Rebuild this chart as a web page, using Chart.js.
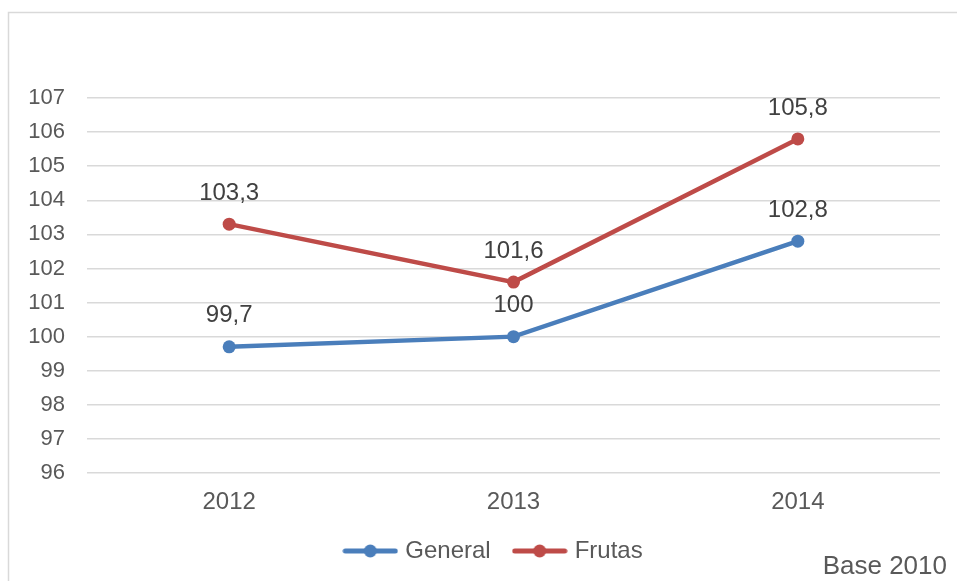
<!DOCTYPE html>
<html>
<head>
<meta charset="utf-8">
<script src="https://cdn.jsdelivr.net/npm/chart.js@4/dist/chart.umd.min.js"></script>
<style>
  html, body { margin: 0; padding: 0; background: #fff; }
  #wrap { width: 957px; height: 581px; }
</style>
</head>
<body>
<div id="wrap"><canvas id="myChart"></canvas></div>
<script>
const years = ['2012', '2013', '2014'];
const general = [99.7, 100, 102.8];
const frutas = [103.3, 101.6, 105.8];
const yTicks = [96, 97, 98, 99, 100, 101, 102, 103, 104, 105, 106, 107];
const baseNote = 'Base 2010';

const blue = '#4a7ebb';
const red = '#be4b48';
const font = '"Liberation Sans", Arial, sans-serif';

// little line+dot swatch for the legend
function swatch(color) {
    const c = document.createElement('canvas');
    c.width = 56;
    c.height = 14;
    const g = c.getContext('2d');
    g.strokeStyle = color;
    g.lineWidth = 5;
    g.lineCap = 'round';
    g.beginPath();
    g.moveTo(3, 7);
    g.lineTo(53, 7);
    g.stroke();
    g.fillStyle = color;
    g.beginPath();
    g.arc(28, 7, 6.5, 0, Math.PI * 2);
    g.fill();
    return c;
}

const valueLabels = {
    id: 'valueLabels',
    afterDatasetsDraw(chart) {
        const ctx = chart.ctx;
        ctx.save();
        ctx.font = '24px ' + font;
        ctx.fillStyle = '#404040';
        ctx.textAlign = 'center';
        ctx.textBaseline = 'middle';
        chart.data.datasets.forEach(function (ds, i) {
            chart.getDatasetMeta(i).data.forEach(function (pt, j) {
                const txt = String(ds.data[j]).replace('.', ',');
                ctx.fillText(txt, pt.x, pt.y - 31);
            });
        });
        ctx.restore();
    }
};

const frame = {
    id: 'frame',
    afterLayout(chart) {
        // nudge the legend a bit right, like the original
        chart.legend.left += 20;
        chart.legend.right += 20;
    },
    beforeDraw(chart) {
        const ctx = chart.ctx;
        ctx.save();
        ctx.strokeStyle = '#d9d9d9';
        ctx.lineWidth = 1.5;
        ctx.strokeRect(8.5, 12.5, chart.width + 20, chart.height + 20);
        ctx.restore();
    },
    afterDraw(chart) {
        const ctx = chart.ctx;
        ctx.save();
        ctx.font = '26px ' + font;
        ctx.fillStyle = '#595959';
        ctx.textAlign = 'right';
        ctx.textBaseline = 'middle';
        ctx.fillText(baseNote, 947, 567);
        ctx.restore();
    }
};

new Chart(document.getElementById('myChart').getContext('2d'), {
    type: 'line',
    data: {
        labels: years,
        datasets: [
            {
                label: 'General',
                data: general,
                borderColor: blue,
                backgroundColor: blue,
                borderWidth: 4.5,
                pointRadius: 6.5,
                pointBackgroundColor: blue,
                pointBorderWidth: 0,
                tension: 0,
            },
            {
                label: 'Frutas',
                data: frutas,
                borderColor: red,
                backgroundColor: red,
                borderWidth: 4.5,
                pointRadius: 6.5,
                pointBackgroundColor: red,
                pointBorderWidth: 0,
                tension: 0,
            },
        ],
    },
    options: {
        responsive: true,
        maintainAspectRatio: false,
        animation: false,
        layout: {
            padding: { top: 98, left: 10, right: 17, bottom: 8 },
        },
        plugins: {
            legend: {
                display: true,
                position: 'bottom',
                labels: {
                    usePointStyle: true,
                    pointStyleWidth: 46,
                    boxHeight: 14,
                    padding: 26,
                    color: '#595959',
                    font: { family: font, size: 24 },
                    generateLabels(chart) {
                        return chart.data.datasets.map(function (ds, i) {
                            return {
                                text: ds.label,
                                pointStyle: swatch(ds.borderColor),
                                fillStyle: ds.borderColor,
                                strokeStyle: ds.borderColor,
                                lineWidth: 0,
                                fontColor: '#595959',
                                datasetIndex: i,
                            };
                        });
                    },
                },
            },
            tooltip: { enabled: false },
        },
        scales: {
            x: {
                offset: true,
                grid: { display: false },
                border: { display: false },
                ticks: {
                    color: '#595959',
                    font: { family: font, size: 24 },
                    padding: 7,
                },
                afterFit(scale) { scale.height = 40; },
            },
            y: {
                min: 96,
                max: 107,
                afterBuildTicks(scale) {
                    scale.ticks = yTicks.map(function (v) { return { value: v }; });
                },
                grid: { color: '#d9d9d9', lineWidth: 1.5, drawTicks: false },
                border: { display: false },
                ticks: {
                    color: '#595959',
                    font: { family: font, size: 22 },
                    padding: 22,
                },
                afterFit(scale) { scale.width = 77; },
            },
        },
    },
    plugins: [valueLabels, frame],
});
</script>
</body>
</html>
